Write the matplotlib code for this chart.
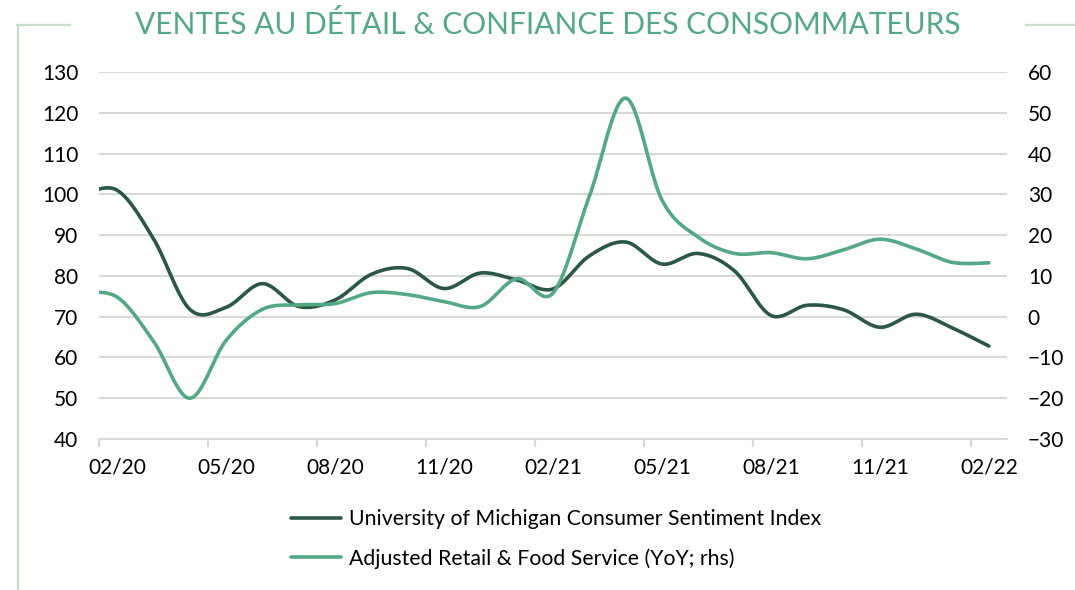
import numpy as np
import matplotlib
matplotlib.use('Agg')
import matplotlib.pyplot as plt
from matplotlib.lines import Line2D

plt.rcParams['font.family'] = ['Lato', 'DejaVu Sans']

# monthly data, Jan 2020 - Feb 2022 (Jan 2020 sits left of the axis start and is clipped)
months = ['01/20', '02/20', '03/20', '04/20', '05/20', '06/20', '07/20', '08/20', '09/20',
          '10/20', '11/20', '12/20', '01/21', '02/21', '03/21', '04/21', '05/21', '06/21',
          '07/21', '08/21', '09/21', '10/21', '11/21', '12/21', '01/22', '02/22']
sentiment = [99.8, 101.0, 89.1, 71.8, 72.3, 78.1, 72.5, 74.1, 80.4, 81.8, 76.9, 80.7, 79.0,
             76.8, 84.9, 88.3, 82.9, 85.5, 81.2, 70.3, 72.8, 71.7, 67.4, 70.6, 67.2, 62.8]
retail = [5.8, 4.8, -6.0, -20.0, -5.8, 1.8, 2.9, 3.2, 5.9, 5.4, 3.7, 2.5, 9.3,
          5.8, 29.5, 53.6, 28.6, 19.5, 15.5, 15.7, 14.2, 16.4, 19.0, 16.6, 13.3, 13.2]
tick_labels = ['02/20', '05/20', '08/20', '11/20', '02/21', '05/21', '08/21', '11/21', '02/22']

dark = '#2c5747'
green = '#55a886'
grid_c = '#d9d9d9'


def smooth(x, y, n=30):
    # excel-like smoothed line (catmull-rom through the points)
    x = np.asarray(x, float)
    y = np.asarray(y, float)
    px = np.concatenate([[x[0]], x, [x[-1]]])
    py = np.concatenate([[y[0]], y, [y[-1]]])
    xs, ys = [], []
    t = np.linspace(0, 1, n)
    for i in range(1, len(px) - 2):
        p0 = np.array([px[i], py[i]])
        p3 = np.array([px[i + 1], py[i + 1]])
        p1 = p0 + (np.array([px[i + 1], py[i + 1]]) - np.array([px[i - 1], py[i - 1]])) / 6
        p2 = p3 - (np.array([px[i + 2], py[i + 2]]) - np.array([px[i], py[i]])) / 6
        b = ((1 - t) ** 3)[:, None] * p0 + (3 * (1 - t) ** 2 * t)[:, None] * p1 \
            + (3 * (1 - t) * t ** 2)[:, None] * p2 + (t ** 3)[:, None] * p3
        xs.append(b[:, 0])
        ys.append(b[:, 1])
    return np.concatenate(xs), np.concatenate(ys)


x = np.arange(len(months)) - 0.5  # point at the middle of each month slot

fig = plt.figure(figsize=(10.75, 5.9), dpi=100)
ax = fig.add_axes([99 / 1075, 1 - 439 / 590, 908 / 1075, 367 / 590])
ax2 = ax.twinx()

sx, sy = smooth(x, sentiment)
l1, = ax.plot(sx, sy, color=dark, lw=2.6, solid_capstyle='round', zorder=3)
rx, ry = smooth(x, retail)
l2, = ax2.plot(rx, ry, color=green, lw=2.6, solid_capstyle='round', zorder=3)

ax.set_xlim(0, 25)
ax.set_ylim(40, 130)
ax2.set_ylim(-30, 60)
ax.set_yticks(np.arange(40, 131, 10))
ax2.set_yticks(np.arange(-30, 61, 10))
ax.grid(axis='y', color=grid_c, lw=1.5)
ax.set_axisbelow(True)

ax.set_xticks(np.arange(0, 25, 3))
ax.set_xticklabels([])
ax.set_xticks(np.arange(0, 25, 3) + 0.5, minor=True)
ax.set_xticklabels(tick_labels, minor=True)
ax.tick_params(axis='x', which='major', length=6, width=1.5, color=grid_c)
ax.tick_params(axis='x', which='minor', length=0, pad=13, labelsize=15)
ax.tick_params(axis='y', length=0, pad=15, labelsize=15)
ax2.tick_params(axis='y', length=0, pad=15, labelsize=15)

for a in (ax, ax2):
    for s in a.spines.values():
        s.set_visible(False)
ax.spines['bottom'].set_visible(True)
ax.spines['bottom'].set_color(grid_c)
ax.spines['bottom'].set_linewidth(1.5)

fig.text(0.51, 1 - 24 / 590, 'VENTES AU DÉTAIL & CONFIANCE DES CONSOMMATEURS',
         ha='center', va='center', fontsize=21.5, color=green, fontweight='normal')

frame_c = '#c8dfcb'
for xs_, ys_ in [((17, 70), (25, 25)), ((18, 18), (25, 590)), ((1026, 1075), (25, 25))]:
    fig.add_artist(Line2D([v / 1075 for v in xs_], [1 - v / 590 for v in ys_],
                          color=frame_c, lw=1.6, transform=fig.transFigure))

fig.legend([l1, l2], ['University of Michigan Consumer Sentiment Index',
                      'Adjusted Retail & Food Service (YoY; rhs)'],
           loc='upper left', bbox_to_anchor=(291 / 1075, 1 - 509 / 590), frameon=False,
           fontsize=15.3, handlelength=2.35, handletextpad=0.38, labelspacing=0.9,
           borderpad=0, borderaxespad=0)

fig.savefig('out.png', dpi=100)
